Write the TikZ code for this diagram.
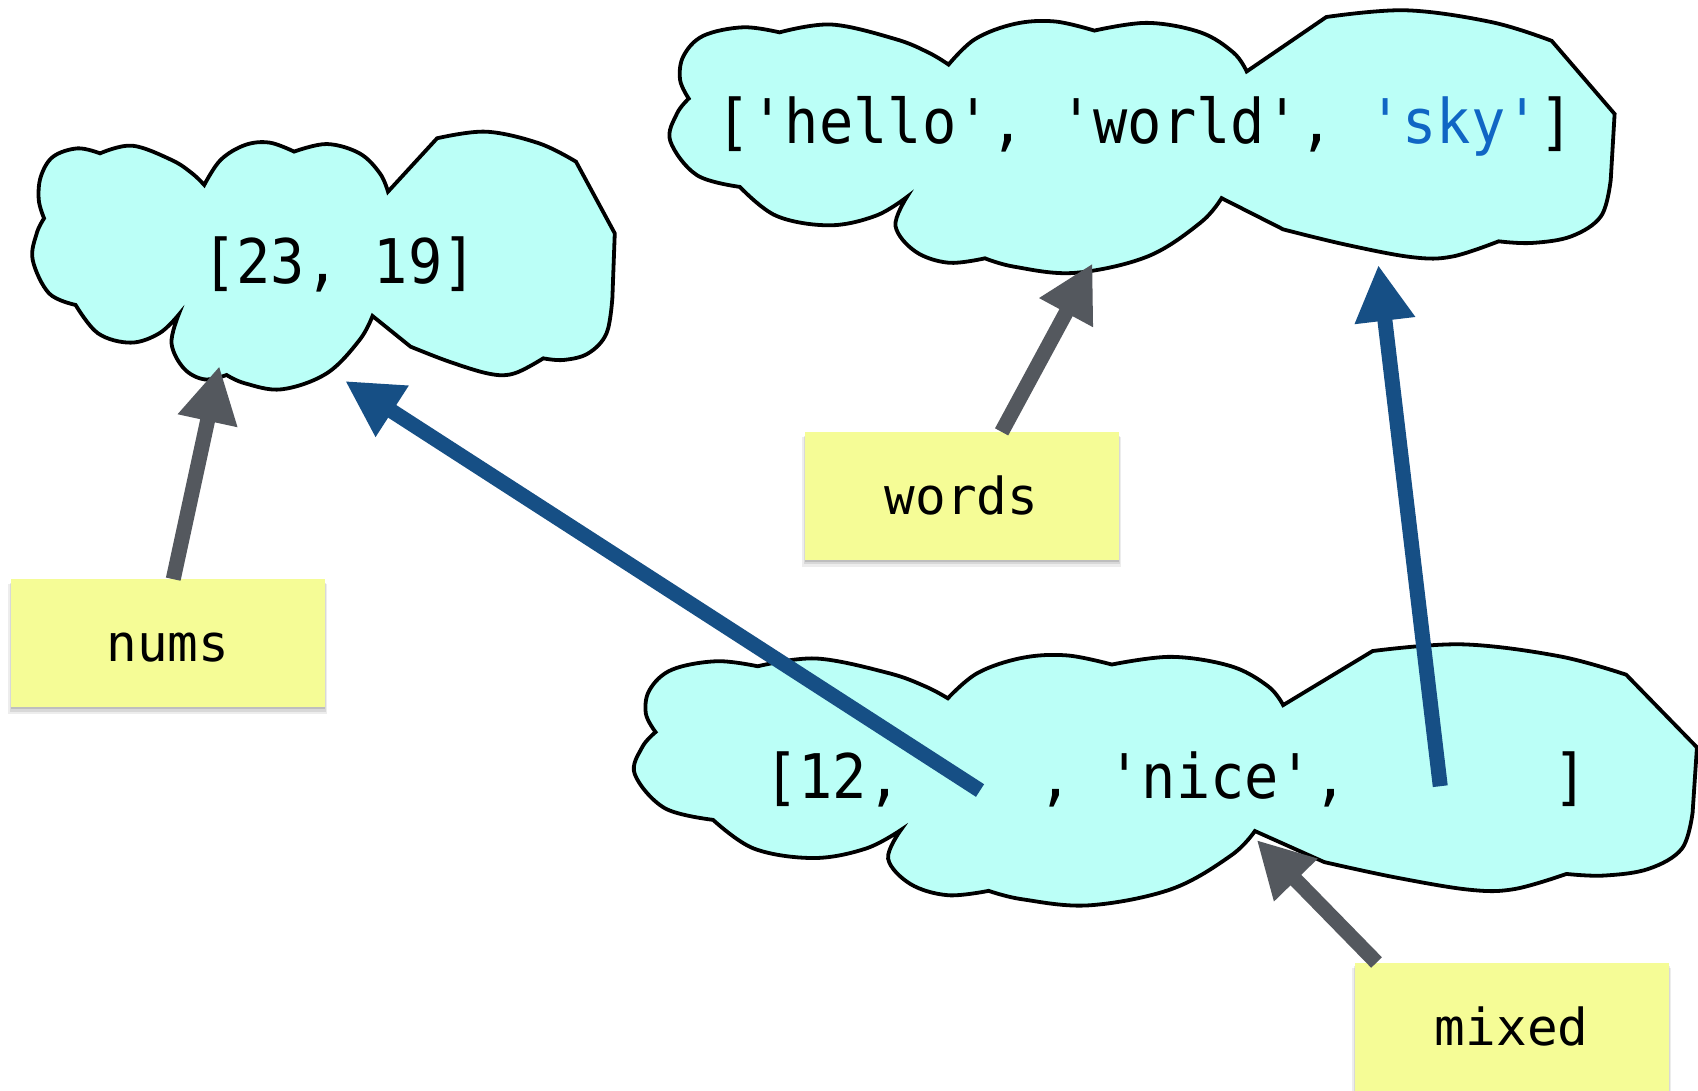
\documentclass[tikz,border=0pt]{standalone}
\usepackage{fontspec}
\setmonofont{DejaVu Sans Mono}
\usetikzlibrary{arrows.meta,shadows}
\definecolor{cloudc}{RGB}{187,255,247}
\definecolor{notec}{RGB}{245,252,150}
\definecolor{grayc}{RGB}{84,88,94}
\definecolor{bluec}{RGB}{22,79,133}
\definecolor{skyc}{RGB}{16,102,196}
\newcommand\cldfont{\ttfamily\fontsize{57pt}{60pt}\selectfont}
\newcommand\ntfont{\ttfamily\fontsize{51pt}{54pt}\selectfont}
\newcommand\tall[1]{\scalebox{1}[1.08]{#1}}
\begin{document}
\begin{tikzpicture}[x=1.0829pt,y=-1.0829pt,
  cloudline/.style={fill=cloudc,draw=black,line width=3.8pt},
  ctext/.style={anchor=base,inner sep=0pt,font=\cldfont},
  notebox/.style={rectangle,fill=notec,minimum width=314pt,minimum height=127.8pt,
    inner sep=0pt,text height=36.8pt,text depth=0pt,font=\ntfont,
    general shadow={fill=black,opacity=0.07,shadow yshift=-6pt,shadow scale=1.015},
    general shadow={fill=black,opacity=0.09,shadow yshift=-4pt,shadow scale=1.006},
    general shadow={fill=black,opacity=0.12,shadow yshift=-2pt}},
  garrow/.style={draw=grayc,line width=15pt,-{Triangle[length=56pt,width=57pt]}},
  barrow/.style={draw=bluec,line width=15pt,-{Triangle[length=56pt,width=57pt]}}]
\useasboundingbox (0,0) rectangle (1568,1007);

\foreach \X/\Y/\sx/\sy in {29/121.6/1/1, 617/9.5/1.6224/1.0193, 584/595/1.8248/1.013}{
 \begin{scope}[shift={(\X,\Y)},xscale=\sx,yscale=\sy,shift={(-29,-121.6)}]
 \filldraw[cloudline] (40.7,201.6)
  -- plot[smooth,tension=0.6] coordinates {(40.7,201.6) (35.8,184.7) (37.7,163.1) (49,144.7) (71.7,137) (92.4,141.6)}
  -- plot[smooth,tension=0.6] coordinates {(92.4,141.6) (122,134.5) (158.4,147.7) (177.3,160) (188.6,170.8)}
  -- plot[smooth,tension=0.6] coordinates {(188.6,170.8) (203.7,147.7) (226.3,133.9) (249,131.7) (271.6,140)}
  -- plot[smooth,tension=0.6] coordinates {(271.6,140) (301.8,133) (332,141.6) (350.8,160) (358.3,177)}
  -- (403.6,127.7)
  -- plot[smooth,tension=0.6] coordinates {(403.6,127.7) (448.9,121.6) (497.9,132.4) (531.9,149.3)}
  -- (567.7,215.5)
  -- (565.5,275)
  -- plot[smooth,tension=0.6] coordinates {(565.5,275) (560.1,307.8) (543.2,326.3) (520.5,332.4) (501.7,330.9)}
  -- plot[smooth,tension=0.6] coordinates {(501.7,330.9) (475.3,344.7) (452.6,345.3) (414.9,334) (379.1,320.1)}
  -- (344,291.8)
  -- plot[smooth,tension=0.6] coordinates {(344,291.8) (332,314) (301.8,344.7) (260.3,359.5) (226.3,354) (209.3,346.3)}
  -- plot[smooth,tension=0.6] coordinates {(209.3,346.3) (188.6,350.3) (169.7,340.1) (158.4,317) (164.8,290.9)}
  -- plot[smooth,tension=0.6] coordinates {(164.8,290.9) (147.1,307.8) (120.7,316.4) (90.5,307.8) (69.8,281.6)}
  -- plot[smooth,tension=0.6] coordinates {(69.8,281.6) (45.3,270.9) (30.2,240) (33.9,215.5) (40.7,201.6)}
  -- cycle;
 \end{scope}}

\node[ctext] (c1) at (313.5,262) {\tall{[23, 19]}};
\node[ctext] (c2) at (1057.5,132.5) {\tall{['hello', 'world', \textcolor{skyc}{'sky'}]}};
\node[ctext] (c3) at (1086,737.5) {\tall{[12,\ \hphantom{000},\ 'nice',\hphantom{000000}]}};

\node[notebox] (nums) at (155,594) {nums};
\node[notebox] (words) at (888,458) {words};
\node[notebox] (mixed) at (1396,948) {mixed};

\coordinate (tN) at (202.6,338);
\coordinate (tW) at (1009,243.2);
\coordinate (tM) at (1160.5,775.7);
\coordinate (s1) at (905,730);
\coordinate (tB1) at (318.7,351.8);
\coordinate (s2) at (1330,726);
\coordinate (tB2) at (1272.8,244.7);

\draw[garrow] ([xshift=5.4pt]nums.north) -- (tN);
\draw[garrow] ([xshift=40pt]words.north) -- (tW);
\draw[garrow] ([xshift=22pt]mixed.north west) -- (tM);
\draw[barrow] (s1) -- (tB1);
\draw[barrow] (s2) -- (tB2);
\end{tikzpicture}
\end{document}
